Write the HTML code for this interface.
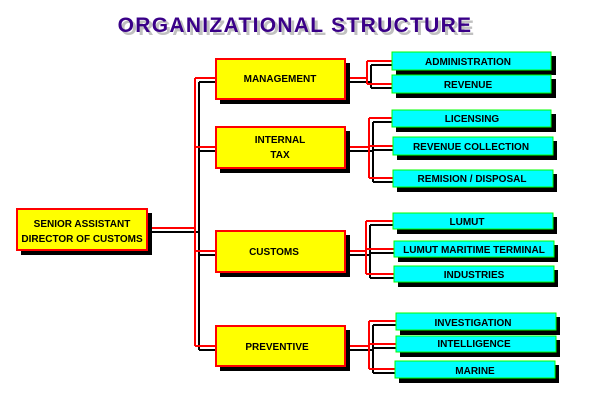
<!DOCTYPE html>
<html><head><style>
html,body{margin:0;padding:0;background:#fff}
svg text{font-family:"Liberation Sans",sans-serif;font-weight:bold;font-size:10px;text-anchor:middle;fill:#000}
</style></head><body>
<svg width="600" height="400" xmlns="http://www.w3.org/2000/svg">
<text x="298" y="35" style="font-size:21px;fill:#c0c0c0;letter-spacing:1.3px">ORGANIZATIONAL STRUCTURE</text>
<text x="295" y="32" style="font-size:21px;fill:#3a0088;letter-spacing:1.3px">ORGANIZATIONAL STRUCTURE</text>
<g fill="none" stroke-width="2">
<path stroke="#000" d="M147,232H199M199,82V350M199,82H215M199,151H215M199,255H215M199,350H215"/>
<path stroke="#f00" d="M147,228H195M195,78V346M195,78H215M195,147H215M195,251H215M195,346H215"/>
<path stroke="#000" d="M345,82H371M371,65V88M371,65H392M371,88H392"/>
<path stroke="#f00" d="M345,78H367M367,61V84M367,61H392M367,84H392"/>
<path stroke="#000" d="M345,151H373M373,122V182M373,122H392M373,150H393M373,182H393"/>
<path stroke="#f00" d="M345,147H369M369,118V178M369,118H392M369,146H393M369,178H393"/>
<path stroke="#000" d="M345,255H370M370,225V278M370,225H393M370,253H394M370,278H394"/>
<path stroke="#f00" d="M345,251H366M366,221V274M366,221H393M366,249H394M366,274H394"/>
<path stroke="#000" d="M345,350H373M373,325V373M373,325H396M373,348H396M373,373H395"/>
<path stroke="#f00" d="M345,346H369M369,321V369M369,321H396M369,344H396M369,369H395"/>
</g>
<g>
<rect x="21" y="213" width="131" height="42" fill="#000"/>
<rect x="17" y="209" width="130" height="41" fill="#ff0" stroke="#f00" stroke-width="2"/>
<text x="82" y="227">SENIOR ASSISTANT</text><text x="82" y="242">DIRECTOR OF CUSTOMS</text>
<rect x="220" y="63" width="130" height="41" fill="#000"/>
<rect x="216" y="59" width="129" height="40" fill="#ff0" stroke="#f00" stroke-width="2"/>
<text x="280" y="82">MANAGEMENT</text>
<rect x="220" y="131" width="130" height="42" fill="#000"/>
<rect x="216" y="127" width="129" height="41" fill="#ff0" stroke="#f00" stroke-width="2"/>
<text x="280" y="143">INTERNAL</text><text x="280" y="158">TAX</text>
<rect x="220" y="235" width="130" height="42" fill="#000"/>
<rect x="216" y="231" width="129" height="41" fill="#ff0" stroke="#f00" stroke-width="2"/>
<text x="274" y="255">CUSTOMS</text>
<rect x="220" y="330" width="130" height="41" fill="#000"/>
<rect x="216" y="326" width="129" height="40" fill="#ff0" stroke="#f00" stroke-width="2"/>
<text x="277" y="350">PREVENTIVE</text>
</g>
<g>
<g><rect x="396" y="56" width="160" height="19" fill="#000"/><rect x="392" y="52" width="159" height="18" fill="#0ff" stroke="#0f0"/><text x="468" y="65">ADMINISTRATION</text></g>
<g><rect x="396" y="79" width="160" height="19" fill="#000"/><rect x="392" y="75" width="159" height="18" fill="#0ff" stroke="#0f0"/><text x="468" y="88">REVENUE</text></g>
<g><rect x="396" y="114" width="160" height="18" fill="#000"/><rect x="392" y="110" width="159" height="17" fill="#0ff" stroke="#0f0"/><text x="472" y="122">LICENSING</text></g>
<g><rect x="397" y="141" width="160" height="19" fill="#000"/><rect x="393" y="137" width="160" height="18" fill="#0ff" stroke="#0f0"/><text x="471" y="150">REVENUE COLLECTION</text></g>
<g><rect x="397" y="174" width="160" height="18" fill="#000"/><rect x="393" y="170" width="160" height="17" fill="#0ff" stroke="#0f0"/><text x="472" y="182">REMISION / DISPOSAL</text></g>
<g><rect x="397" y="217" width="160" height="17" fill="#000"/><rect x="393" y="213" width="160" height="16" fill="#0ff" stroke="#0f0"/><text x="467" y="225">LUMUT</text></g>
<g><rect x="398" y="245" width="160" height="17" fill="#000"/><rect x="394" y="241" width="160" height="16" fill="#0ff" stroke="#0f0"/><text x="474" y="253">LUMUT MARITIME TERMINAL</text></g>
<g><rect x="398" y="270" width="160" height="17" fill="#000"/><rect x="394" y="266" width="160" height="16" fill="#0ff" stroke="#0f0"/><text x="474" y="278">INDUSTRIES</text></g>
<g><rect x="400" y="317" width="160" height="18" fill="#000"/><rect x="396" y="313" width="160" height="17" fill="#0ff" stroke="#0f0"/><text x="473" y="326">INVESTIGATION</text></g>
<g><rect x="400" y="340" width="160" height="17" fill="#000"/><rect x="396" y="336" width="160" height="16" fill="#0ff" stroke="#0f0"/><text x="474" y="347">INTELLIGENCE</text></g>
<g><rect x="399" y="365" width="160" height="18" fill="#000"/><rect x="395" y="361" width="160" height="17" fill="#0ff" stroke="#0f0"/><text x="475" y="374">MARINE</text></g>
</g>
</svg>
</body></html>
